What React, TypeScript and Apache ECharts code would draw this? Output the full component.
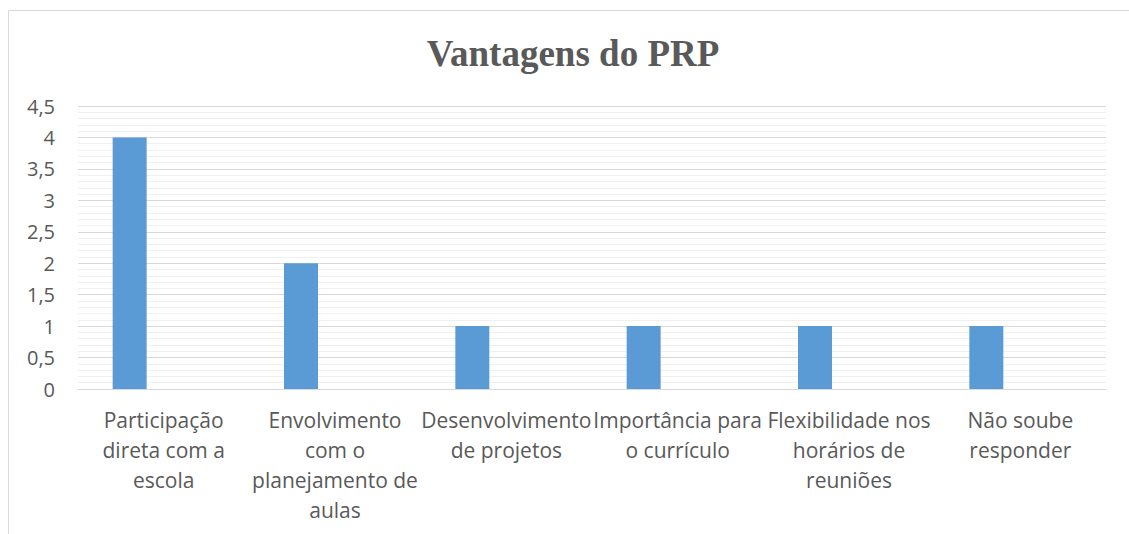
import React, { useEffect, useRef } from "react";
import * as echarts from "echarts";

const categories = [
  "Participação\ndireta com a\nescola",
  "Envolvimento\ncom o\nplanejamento de\naulas",
  "Desenvolvimento\nde projetos",
  "Importância para\no currículo",
  "Flexibilidade nos\nhorários de\nreuniões",
  "Não soube\nresponder",
];
const values = [4, 2, 1, 1, 1, 1];
const emptyValues = [null, null, null, null, null, null];
const titleText = "Vantagens do PRP";

export default function App() {
  const ref = useRef<HTMLDivElement>(null);
  useEffect(() => {
    const chart = echarts.init(ref.current!, null, { renderer: "svg" });
    const font = "Open Sans";
    chart.setOption({
      animation: false,
      backgroundColor: "#ffffff",
      graphic: [
        {
          type: "rect",
          shape: { x: 8.5, y: 10.5, width: 1200, height: 600 },
          style: { fill: "none", stroke: "#d9d9d9", lineWidth: 1 },
          silent: true,
        },
        {
          type: "text",
          x: 573,
          y: 53,
          style: {
            text: titleText,
            fontFamily: "Liberation Serif",
            fontWeight: "bold",
            fontSize: 37,
            fill: "#595959",
            align: "center",
            verticalAlign: "middle",
          },
        },
      ],
      grid: { left: 78, right: 23, top: 106, bottom: 145, containLabel: false },
      xAxis: {
        type: "category",
        data: categories,
        axisLine: { lineStyle: { color: "#d9d9d9", width: 1 } },
        axisTick: { show: false },
        axisLabel: {
          interval: 0,
          color: "#595959",
          fontFamily: font,
          fontSize: 21,
          lineHeight: 30,
          margin: 16,
        },
      },
      yAxis: {
        type: "value",
        min: 0,
        max: 4.5,
        interval: 0.5,
        axisLine: { show: false },
        axisTick: { show: false },
        splitLine: { lineStyle: { color: "#d9d9d9", width: 1 } },
        minorTick: { show: false, splitNumber: 5 },
        minorSplitLine: { show: true, lineStyle: { color: "#f0f0f0", width: 1 } },
        axisLabel: {
          color: "#595959",
          fontFamily: font,
          fontSize: 20,
          margin: 23,
          formatter: (v: number) => String(v).replace(".", ","),
        },
      },
      series: [
        {
          type: "bar",
          data: values,
          barWidth: 34,
          barGap: "0%",
          itemStyle: { color: "#5b9bd5" },
        },
        { type: "bar", data: emptyValues, barWidth: 34, barGap: "0%" },
        { type: "bar", data: emptyValues, barWidth: 34, barGap: "0%" },
      ],
    });
    return () => chart.dispose();
  }, []);
  return (
    <div
      ref={ref}
      style={{ position: "fixed", left: 0, top: 0, width: 1129, height: 534 }}
    />
  );
}
